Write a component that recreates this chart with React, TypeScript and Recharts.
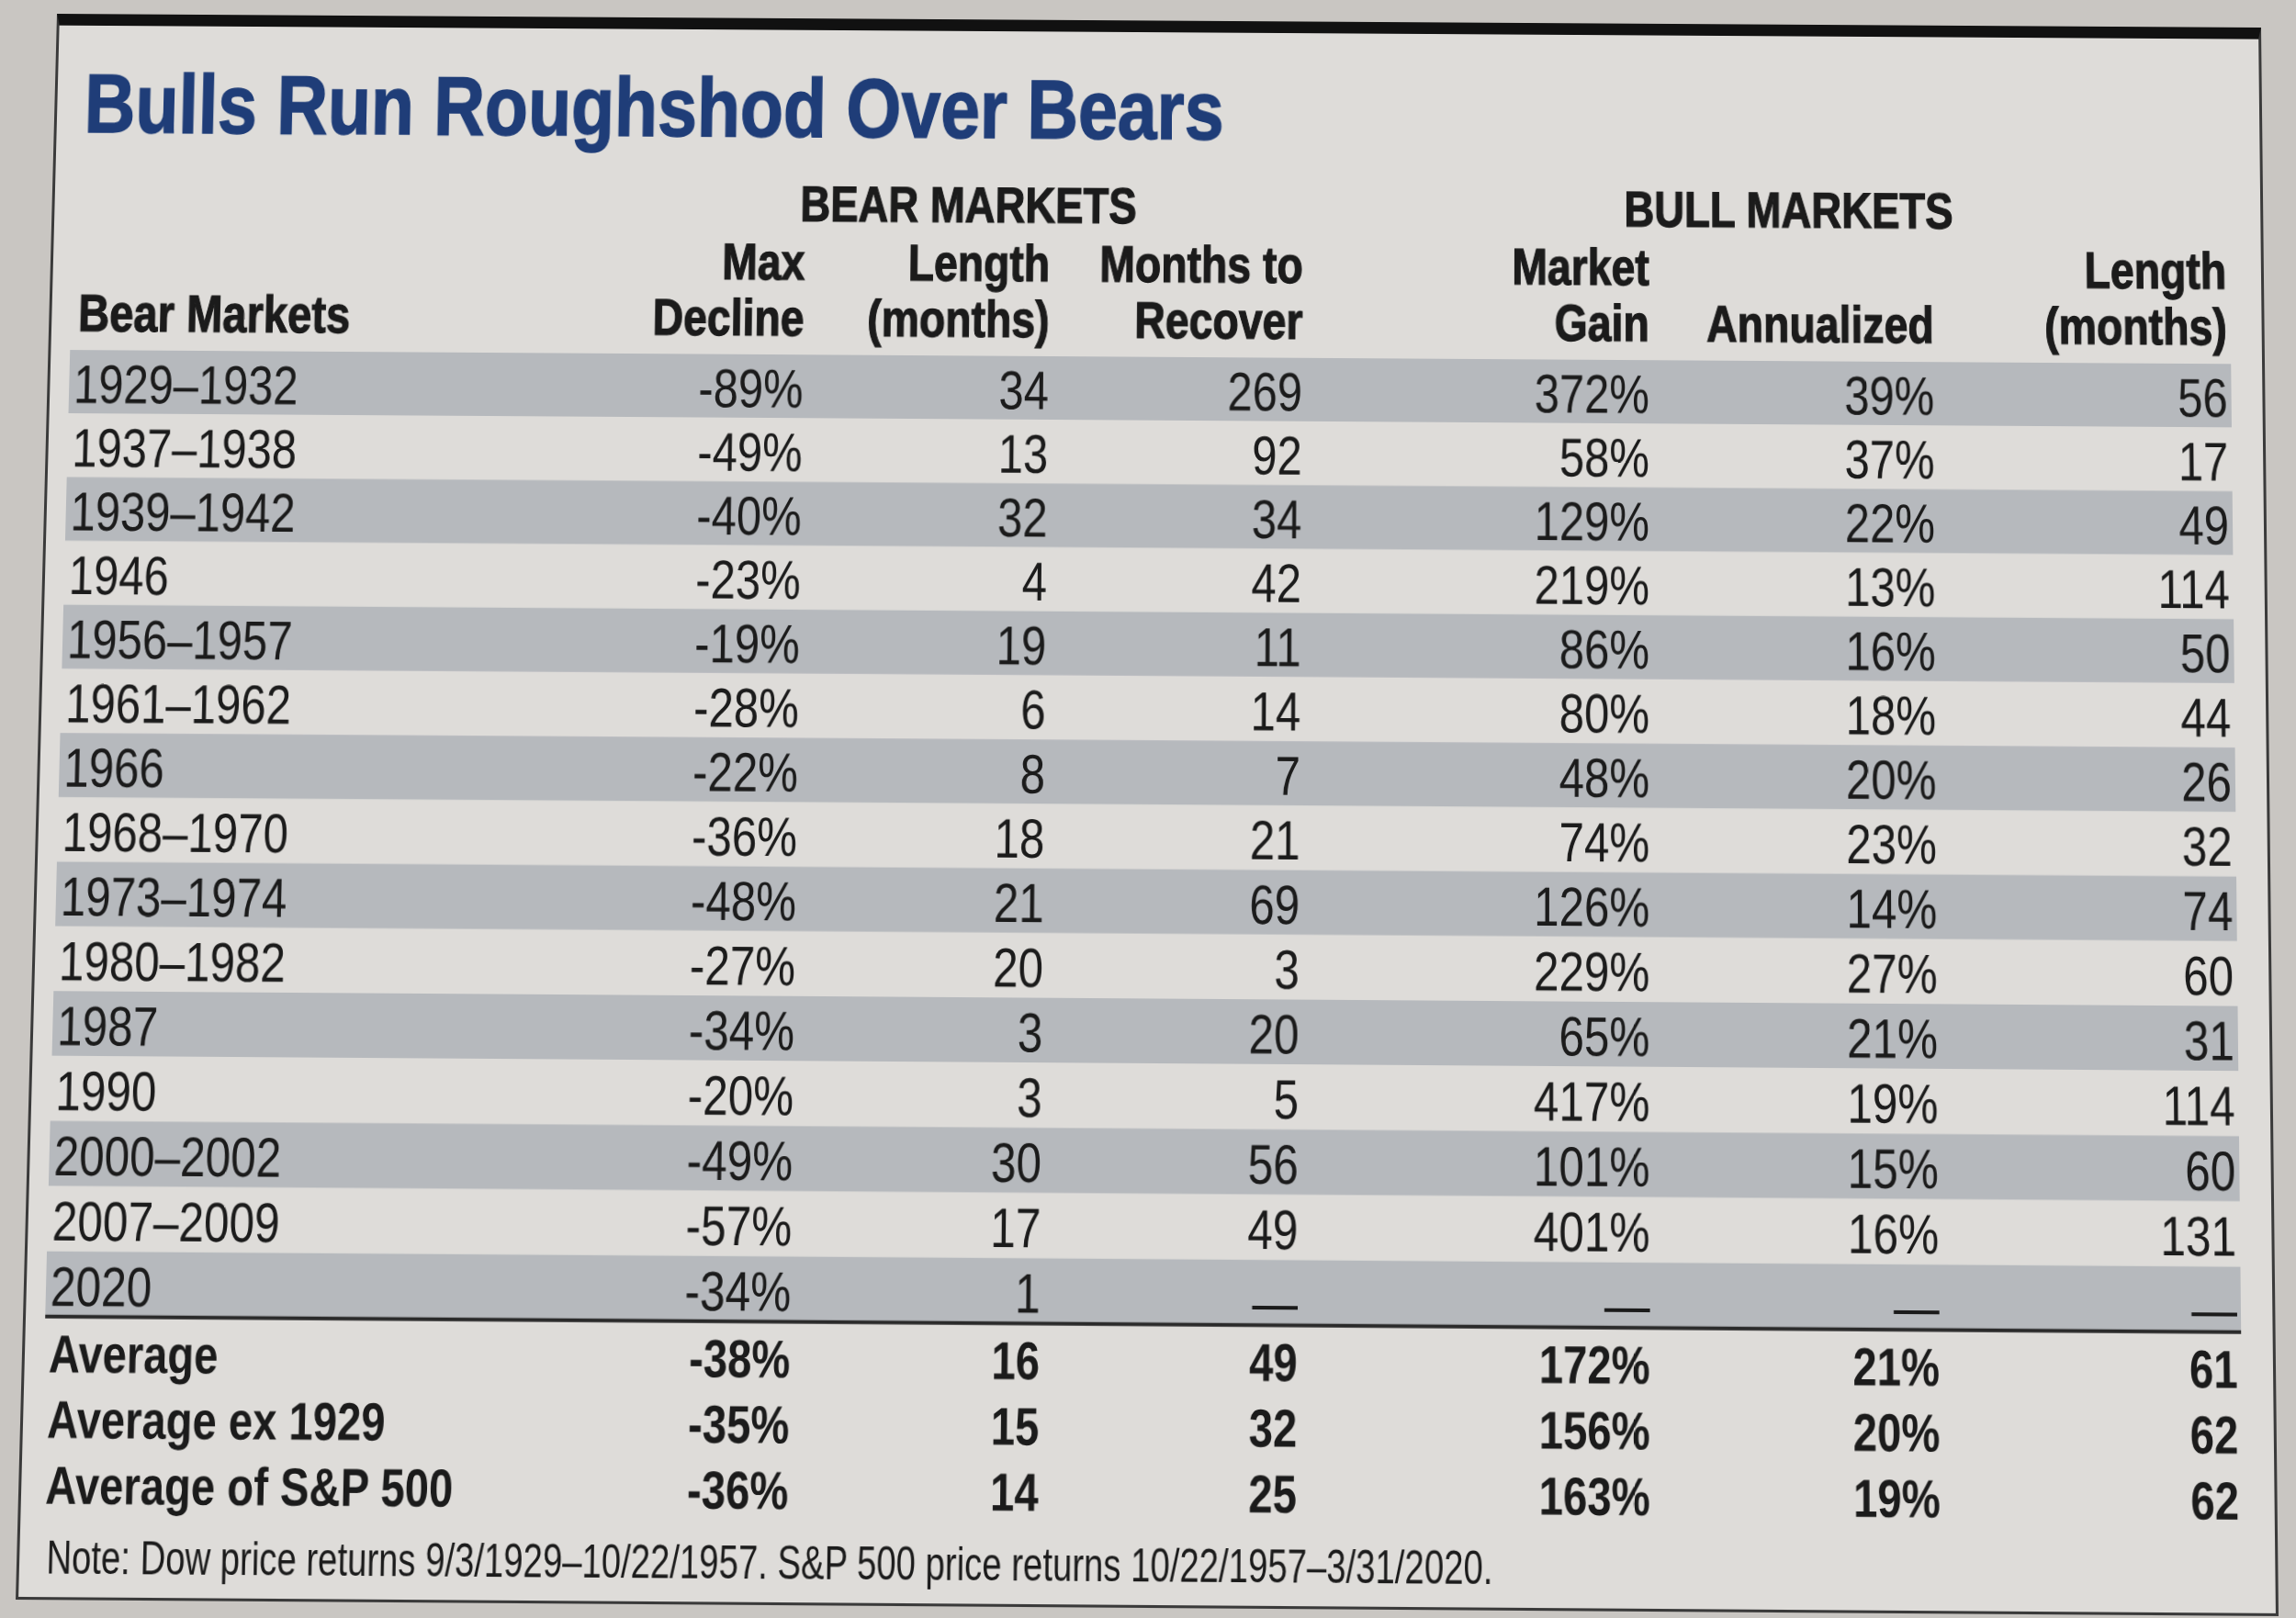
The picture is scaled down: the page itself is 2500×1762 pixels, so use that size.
import React from "react";
import { ComposedChart, Bar, XAxis, YAxis, LabelList, Customized } from "recharts";

// bear market periods and their stats (null = not yet available)
const PERIODS = [
  "1929–1932", "1937–1938", "1939–1942", "1946", "1956–1957",
  "1961–1962", "1966", "1968–1970", "1973–1974", "1980–1982",
  "1987", "1990", "2000–2002", "2007–2009", "2020",
];
const MAX_DECLINE = [-89, -49, -40, -23, -19, -28, -22, -36, -48, -27, -34, -20, -49, -57, -34];
const BEAR_LENGTH = [34, 13, 32, 4, 19, 6, 8, 18, 21, 20, 3, 3, 30, 17, 1];
const MONTHS_TO_RECOVER = [269, 92, 34, 42, 11, 14, 7, 21, 69, 3, 20, 5, 56, 49, null];
const MARKET_GAIN = [372, 58, 129, 219, 86, 80, 48, 74, 126, 229, 65, 417, 101, 401, null];
const ANNUALIZED = [39, 37, 22, 13, 16, 18, 20, 23, 14, 27, 21, 19, 15, 16, null];
const BULL_LENGTH = [56, 17, 49, 114, 50, 44, 26, 32, 74, 60, 31, 114, 60, 131, null];

const AVG_LABELS = ["Average", "Average ex 1929", "Average of S&P 500"];
const AVG_MAX_DECLINE = [-38, -35, -36];
const AVG_BEAR_LENGTH = [16, 15, 14];
const AVG_RECOVER = [49, 32, 25];
const AVG_GAIN = [172, 156, 163];
const AVG_ANNUALIZED = [21, 20, 19];
const AVG_BULL_LENGTH = [61, 62, 62];

const TITLE = "Bulls Run Roughshod Over Bears";
const NOTE =
  "Note: Dow price returns 9/3/1929–10/22/1957. S&P 500 price returns 10/22/1957–3/31/2020.";

const W = 2500;
const H = 1762;
const FONT = "'Liberation Sans', Arial, sans-serif";
const NARROW = 0.82; // squeeze Liberation Sans into a condensed face
const INK = "#1b1b1b";
const NAVY = "#1f3d78";
const STRIPE = "#b6b9bd";
const PANEL = "#dedcd9";
const PAGE = "#c9c6c2";

const PLOT_LEFT = 64;
const PLOT_RIGHT = 2433;
const ROW_TOP = 396;
const ROW_H = 70.2;

const pct = (v: number | null) => (v == null ? "—" : `${v}%`);
const num = (v: number | null) => (v == null ? "—" : `${v}`);

const rows = [
  ...PERIODS.map((period, i) => ({
    period,
    band: 1,
    shade: i % 2 === 0,
    rule: i === PERIODS.length - 1,
    bold: false,
    maxDecline: pct(MAX_DECLINE[i]),
    bearLength: num(BEAR_LENGTH[i]),
    recover: num(MONTHS_TO_RECOVER[i]),
    gain: pct(MARKET_GAIN[i]),
    annualized: pct(ANNUALIZED[i]),
    bullLength: num(BULL_LENGTH[i]),
  })),
  ...AVG_LABELS.map((period, i) => ({
    period,
    band: 1,
    shade: false,
    rule: false,
    bold: true,
    maxDecline: pct(AVG_MAX_DECLINE[i]),
    bearLength: num(AVG_BEAR_LENGTH[i]),
    recover: num(AVG_RECOVER[i]),
    gain: pct(AVG_GAIN[i]),
    annualized: pct(AVG_ANNUALIZED[i]),
    bullLength: num(AVG_BULL_LENGTH[i]),
  })),
];

// right edge of each value column, as a share of the row width
const COLUMNS = [
  { key: "maxDecline", at: 0.3398, head: ["Max", "Decline"] },
  { key: "bearLength", at: 0.4534, head: ["Length", "(months)"] },
  { key: "recover", at: 0.5707, head: ["Months to", "Recover"] },
  { key: "gain", at: 0.7311, head: ["Market", "Gain"] },
  { key: "annualized", at: 0.8628, head: ["", "Annualized"] },
  { key: "bullLength", at: 0.9983, head: ["Length", "(months)"] },
];

const colX = (at: number) => PLOT_LEFT + at * (PLOT_RIGHT - PLOT_LEFT);

// the photo is shot at a slight angle: map the flat frame onto the photographed one
function quadTransform(sx: number, sy: number, sw: number, sh: number, q: number[][]) {
  const [[x0, y0], [x1, y1], [x2, y2], [x3, y3]] = q;
  const dx1 = x1 - x2, dx2 = x3 - x2, dx3 = x0 - x1 + x2 - x3;
  const dy1 = y1 - y2, dy2 = y3 - y2, dy3 = y0 - y1 + y2 - y3;
  const den = dx1 * dy2 - dx2 * dy1;
  const g = (dx3 * dy2 - dx2 * dy3) / den;
  const h = (dx1 * dy3 - dx3 * dy1) / den;
  const a = x1 - x0 + g * x1, b = x3 - x0 + h * x3, c = x0;
  const d = y1 - y0 + g * y1, e = y3 - y0 + h * y3, f = y0;
  const m00 = a / sw, m01 = b / sh, m02 = c - (a * sx) / sw - (b * sy) / sh;
  const m10 = d / sw, m11 = e / sh, m12 = f - (d * sx) / sw - (e * sy) / sh;
  const m20 = g / sw, m21 = h / sh, m22 = 1 - (g * sx) / sw - (h * sy) / sh;
  return `matrix3d(${[m00, m10, 0, m20, m01, m11, 0, m21, 0, 0, 1, 0, m02, m12, 0, m22].join(",")})`;
}

const FRAME = { x: 40, y: 22, w: 2430, h: 1729 };
const PHOTO_CORNERS = [
  [62, 15],
  [2462, 30],
  [2481, 1760],
  [17, 1742],
];

const readBox = (p: any) => {
  const vb = p.viewBox || {};
  return {
    x: p.x ?? vb.x,
    y: p.y ?? vb.y,
    width: p.width ?? vb.width,
    height: p.height ?? vb.height,
  };
};

// condensed text: scaled horizontally around its anchor point
const Txt = ({ x, y, anchor = "start", size, bold = false, heavy = false, fill = INK, children }: any) => (
  <text
    transform={`translate(${x} ${y}) scale(${NARROW} 1)`}
    textAnchor={anchor}
    fontFamily={FONT}
    fontSize={size}
    fontWeight={bold ? 700 : 400}
    fill={fill}
    stroke={heavy ? fill : "none"}
    strokeWidth={heavy ? 1.2 : 0}
  >
    {children}
  </text>
);

const cellText = (value: string, row: any, x: number, y: number, height: number, anchor: "start" | "end") => {
  const size = row.bold ? 57 : 60;
  const dash = value === "—" ? 8 : 0;
  const base = y + height / 2 + size * 0.358 + (row.bold ? 4 : 2) + dash;
  return (
    <Txt x={x} y={base} anchor={anchor} size={size} bold={row.bold}>
      {value}
    </Txt>
  );
};

const makeValueCell = (at: number) => (props: any) => {
  const { x, y, width, height } = readBox(props);
  const row = rows[props.index];
  if (!row) return null;
  return cellText(String(props.value), row, x + at * width, y, height, "end");
};

const periodCell = (props: any) => {
  const { x, y, height } = readBox(props);
  const row = rows[props.index];
  if (!row) return null;
  return cellText(String(props.value), row, x + 5, y, height, "start");
};

const StripeShape = (props: any) => {
  const { x, y, width, height, payload } = props;
  return (
    <g>
      {payload?.shade && <rect x={x} y={y} width={width} height={height} fill={STRIPE} />}
      {payload?.rule && (
        <line x1={x} x2={x + width} y1={y + height} y2={y + height} stroke="#2a2a2a" strokeWidth={4} />
      )}
    </g>
  );
};

const Headings = () => (
  <g>
    <text
      x={73}
      y={154}
      fontFamily={FONT}
      fontWeight={700}
      fontSize={92}
      fill={NAVY}
      stroke={NAVY}
      strokeWidth={1.5}
      textLength={1255}
      lengthAdjust="spacingAndGlyphs"
    >
      {TITLE}
    </text>
    <Txt x={1048} y={248} anchor="middle" size={56} bold heavy>
      BEAR MARKETS
    </Txt>
    <Txt x={1949} y={248} anchor="middle" size={56} bold heavy>
      BULL MARKETS
    </Txt>
    <Txt x={PLOT_LEFT + 8} y={375} size={58} bold heavy>
      Bear Markets
    </Txt>
    {COLUMNS.map((c) => (
      <g key={c.key}>
        {c.head[0] && (
          <Txt x={colX(c.at)} y={313} anchor="end" size={57} bold heavy>
            {c.head[0]}
          </Txt>
        )}
        <Txt x={colX(c.at)} y={375} anchor="end" size={57} bold heavy>
          {c.head[1]}
        </Txt>
      </g>
    ))}
    <text
      x={72}
      y={1723}
      fontFamily={FONT}
      fontSize={50}
      fill={INK}
      textLength={1555}
      lengthAdjust="spacingAndGlyphs"
    >
      {NOTE}
    </text>
  </g>
);

const App = () => {
  const chartBottom = H - (ROW_TOP + rows.length * ROW_H);
  return (
    <div style={{ position: "absolute", left: 0, top: 0, width: W, height: H, background: PAGE, overflow: "hidden" }}>
      <div
        style={{
          position: "absolute",
          left: 0,
          top: 0,
          width: W,
          height: H,
          transformOrigin: "0 0",
          transform: quadTransform(FRAME.x, FRAME.y, FRAME.w, FRAME.h, PHOTO_CORNERS),
        }}
      >
        <div
          style={{
            position: "absolute",
            left: FRAME.x,
            top: FRAME.y,
            width: FRAME.w,
            height: FRAME.h,
            boxSizing: "border-box",
            background: PANEL,
            borderTop: "13px solid #111",
            borderLeft: "3px solid #3a3a3a",
            borderRight: "3px solid #3a3a3a",
            borderBottom: "3px solid #3a3a3a",
          }}
        />
        <div style={{ position: "absolute", left: 0, top: 0 }}>
          <ComposedChart
            width={W}
            height={H}
            data={rows}
            layout="vertical"
            barCategoryGap={0}
            margin={{ top: ROW_TOP, right: W - PLOT_RIGHT, bottom: chartBottom, left: PLOT_LEFT }}
          >
            <XAxis type="number" domain={[0, 1]} hide />
            <YAxis type="category" dataKey="period" hide />
            <Bar dataKey="band" shape={StripeShape} isAnimationActive={false}>
              <LabelList dataKey="period" content={periodCell} />
              {COLUMNS.map((c) => (
                <LabelList key={c.key} dataKey={c.key} content={makeValueCell(c.at)} />
              ))}
            </Bar>
            <Customized component={Headings} />
          </ComposedChart>
        </div>
      </div>
    </div>
  );
};

export default App;
